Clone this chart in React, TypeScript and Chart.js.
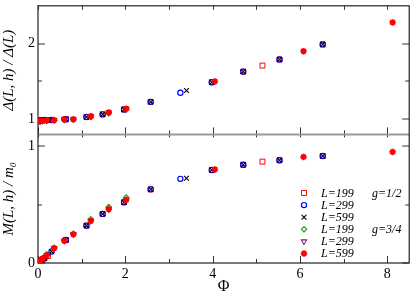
import React, { useEffect, useRef } from 'react';
import { Chart, registerables } from 'chart.js';
import { drawPoint } from 'chart.js/helpers';

Chart.register(...registerables);

// Tick values
const xTickValues = [0, 2, 4, 6, 8];
const topTickValues = [1, 2];
const bottomTickValues = [0, 1];

// g = 1/2, L = 199
const phiA199 = [0.02, 0.06, 0.12, 0.23, 0.64, 1.11, 1.48, 1.97, 2.58, 3.98, 4.70, 5.14, 5.53, 6.52];
const gapA199 = [0.985, 0.985, 0.985, 0.99, 1.0, 1.03, 1.065, 1.13, 1.23, 1.49, 1.63, 1.71, 1.79, 1.99];
const magA199 = [0.005, 0.015, 0.035, 0.06, 0.197, 0.32, 0.42, 0.52, 0.63, 0.795, 0.84, 0.867, 0.879, 0.915];
// g = 1/2, L = 299
const phiA299 = [0.03, 0.08, 0.15, 0.31, 0.64, 1.11, 1.48, 1.97, 2.58, 3.26, 3.98, 4.70, 5.53, 6.52];
const gapA299 = [0.985, 0.985, 0.99, 0.99, 1.0, 1.03, 1.065, 1.13, 1.23, 1.35, 1.49, 1.63, 1.79, 1.99];
const magA299 = [0.008, 0.02, 0.04, 0.098, 0.197, 0.32, 0.42, 0.52, 0.63, 0.72, 0.795, 0.84, 0.879, 0.915];
// g = 1/2, L = 599
const phiA599 = [0.03, 0.08, 0.15, 0.31, 0.64, 1.11, 1.48, 1.97, 2.58, 3.40, 3.98, 4.70, 5.53, 6.52];
const gapA599 = [0.985, 0.985, 0.99, 0.99, 1.0, 1.03, 1.065, 1.13, 1.23, 1.38, 1.49, 1.63, 1.79, 1.99];
const magA599 = [0.008, 0.02, 0.04, 0.098, 0.197, 0.32, 0.42, 0.52, 0.63, 0.725, 0.795, 0.84, 0.879, 0.915];
// g = 3/4, L = 199
const phiB199 = [0.01, 0.05, 0.1, 0.2, 0.37, 0.6, 0.81, 1.21, 1.62, 2.02];
const gapB199 = [0.97, 0.97, 0.975, 0.98, 0.985, 0.99, 0.995, 1.03, 1.08, 1.13];
const magB199 = [0.0, 0.02, 0.04, 0.075, 0.13, 0.195, 0.25, 0.375, 0.48, 0.56];
// g = 3/4, L = 299
const phiB299 = [0.01, 0.05, 0.1, 0.2, 0.37, 0.6, 0.81, 1.21, 1.62, 2.02];
const gapB299 = [0.975, 0.975, 0.98, 0.985, 0.99, 1.0, 1.0, 1.04, 1.09, 1.14];
const magB299 = [0.0, 0.015, 0.035, 0.065, 0.127, 0.19, 0.245, 0.36, 0.46, 0.54];
// g = 3/4, L = 599
const phiB599 = [0.01, 0.05, 0.1, 0.2, 0.37, 0.6, 0.81, 1.21, 1.62, 2.02, 4.05, 6.08, 8.12];
const gapB599 = [0.975, 0.975, 0.98, 0.985, 0.99, 1.0, 1.0, 1.04, 1.09, 1.14, 1.5, 1.90, 2.28];
const magB599 = [0.0, 0.015, 0.035, 0.065, 0.127, 0.19, 0.245, 0.36, 0.46, 0.54, 0.80, 0.907, 0.95];

const seriesLabels = ['L=199', 'L=299', 'L=599', 'L=199', 'L=299', 'L=599'];
const groupLabels = ['g=1/2', '', '', 'g=3/4', '', ''];

const SERIF = "'Liberation Serif', 'DejaVu Serif', serif";

type Style = { color: string; pointStyle: any; radius: number; rotation: number; width: number };
const styles: Style[] = [
  { color: '#ff0000', pointStyle: 'rect', radius: 3.5, rotation: 0, width: 1 },
  { color: '#0000ff', pointStyle: 'circle', radius: 2.6, rotation: 0, width: 1.2 },
  { color: '#000000', pointStyle: 'crossRot', radius: 3.4, rotation: 0, width: 1.1 },
  { color: '#1aa01a', pointStyle: 'rectRot', radius: 2.6, rotation: 0, width: 1.2 },
  { color: '#7f1f7f', pointStyle: 'triangle', radius: 3, rotation: 180, width: 1.1 },
  { color: '#ff0000', pointStyle: 'star', radius: 3.2, rotation: 0, width: 1.8 },
];

const seriesData = [
  [phiA199, gapA199, magA199],
  [phiA299, gapA299, magA299],
  [phiA599, gapA599, magA599],
  [phiB199, gapB199, magB199],
  [phiB299, gapB299, magB299],
  [phiB599, gapB599, magB599],
];

const drawOrder = [5, 4, 3, 6, 2, 1];

const noPad = (s: any) => {
  s.paddingTop = 0;
  s.paddingBottom = 0;
  s.paddingLeft = 0;
  s.paddingRight = 0;
};

const framePlugin = {
  id: 'frame',
  beforeDatasetsDraw(chart: any) {
    const ctx = chart.ctx;
    const ca = chart.chartArea;
    const x = chart.scales.x;
    const yT = chart.scales.yTop;
    const yB = chart.scales.yBot;
    const mid = yT.bottom;
    ctx.save();
    ctx.strokeStyle = '#333';
    ctx.lineWidth = 1;
    for (let v = 0; v <= 8; v++) {
      const px = Math.round(x.getPixelForValue(v)) + 0.5;
      const major = v % 2 === 0;
      const L = major ? 7 : 4;
      ctx.beginPath();
      ctx.moveTo(px, ca.top); ctx.lineTo(px, ca.top + 4);
      ctx.moveTo(px, mid); ctx.lineTo(px, mid - L);
      ctx.moveTo(px, mid); ctx.lineTo(px, mid + 3);
      ctx.moveTo(px, ca.bottom); ctx.lineTo(px, ca.bottom - L);
      ctx.stroke();
    }
    ctx.strokeStyle = '#999';
    ctx.lineWidth = 2;
    const yTicks = (scale: any, vals: number[], minors: number[]) => {
      ctx.beginPath();
      for (const v of vals) {
        const py = Math.round(scale.getPixelForValue(v));
        ctx.moveTo(ca.left, py); ctx.lineTo(ca.left + 7, py);
        ctx.moveTo(ca.right, py); ctx.lineTo(ca.right - 7, py);
      }
      for (const v of minors) {
        const py = Math.round(scale.getPixelForValue(v));
        ctx.moveTo(ca.left, py); ctx.lineTo(ca.left + 4, py);
        ctx.moveTo(ca.right, py); ctx.lineTo(ca.right - 4, py);
      }
      ctx.stroke();
    };
    yTicks(yT, topTickValues, [1.5]);
    yTicks(yB, bottomTickValues, [0.5]);
    ctx.strokeStyle = '#999';
    ctx.lineWidth = 2;
    ctx.beginPath();
    ctx.moveTo(ca.left, mid); ctx.lineTo(ca.right, mid);
    ctx.stroke();
    ctx.strokeStyle = '#222';
    ctx.lineWidth = 1.2;
    ctx.strokeRect(ca.left, ca.top, ca.right - ca.left, ca.bottom - ca.top);
    ctx.restore();
  },
  afterDraw(chart: any) {
    const ctx = chart.ctx;
    ctx.save();
    const mx = 304;
    const tx = 321;
    const gx = 372;
    const y0 = 193;
    const dy = 12.1;
    ctx.font = `italic 12px ${SERIF}`;
    ctx.textBaseline = 'middle';
    for (let i = 0; i < 6; i++) {
      const s = styles[i];
      const py = y0 + i * dy;
      ctx.strokeStyle = s.color;
      ctx.fillStyle = 'rgba(0,0,0,0)';
      ctx.lineWidth = s.width;
      drawPoint(ctx, { pointStyle: s.pointStyle, radius: s.radius, rotation: s.rotation, borderWidth: s.width }, mx, py);
      ctx.fillStyle = '#000';
      ctx.fillText(seriesLabels[i], tx, py + 0.5);
      if (groupLabels[i]) ctx.fillText(groupLabels[i], gx, py + 0.5);
    }
    ctx.restore();
  },
};

export default function App() {
  const ref = useRef<HTMLCanvasElement | null>(null);
  useEffect(() => {
    document.body.style.margin = '0';
    const datasets: any[] = [];
    seriesData.forEach(([phi, gap, mag], i) => {
      const s = styles[i];
      const common = {
        label: seriesLabels[i],
        showLine: false,
        pointStyle: s.pointStyle,
        pointRadius: s.radius,
        pointRotation: s.rotation,
        pointBorderWidth: s.width,
        borderColor: s.color,
        backgroundColor: 'rgba(0,0,0,0)',
        pointBackgroundColor: 'rgba(0,0,0,0)',
        order: drawOrder[i],
      };
      datasets.push({ ...common, yAxisID: 'yTop', data: phi.map((p, k) => ({ x: p, y: gap[k] })) });
      datasets.push({ ...common, yAxisID: 'yBot', data: phi.map((p, k) => ({ x: p, y: mag[k] })) });
    });
    const chart = new Chart(ref.current as HTMLCanvasElement, {
      type: 'scatter',
      data: { datasets },
      options: {
        animation: false,
        responsive: false,
        layout: { padding: { top: 3, right: 3, left: 0, bottom: 0 } },
        plugins: { legend: { display: false }, tooltip: { enabled: false } },
        scales: {
          x: {
            type: 'linear',
            min: 0,
            max: 8.5,
            grid: { display: false, drawTicks: false },
            border: { display: false },
            afterBuildTicks: (s: any) => { s.ticks = xTickValues.map((v) => ({ value: v })); },
            afterFit: (s: any) => { s.height = 33; noPad(s); },
            ticks: { color: '#000', font: { family: SERIF, size: 14 }, padding: 3, maxRotation: 0, autoSkip: false },
            title: { display: true, text: 'Φ', color: '#000', font: { family: SERIF, size: 16 }, padding: { top: 0, bottom: 0 } },
          },
          yBot: {
            type: 'linear',
            position: 'left',
            stack: 'panels',
            stackWeight: 1,
            min: 0,
            max: 1.1,
            grid: { display: false, drawTicks: false },
            border: { display: false },
            afterBuildTicks: (s: any) => { s.ticks = bottomTickValues.map((v) => ({ value: v })); },
            afterFit: (s: any) => { s.width = 38; noPad(s); },
            ticks: { color: '#000', font: { family: SERIF, size: 14 }, padding: 3 },
            title: { display: true, text: 'M(L, h) / m₀', color: '#000', font: { family: SERIF, size: 15, style: 'italic' }, padding: { top: 0, bottom: 0 } },
          },
          yTop: {
            type: 'linear',
            position: 'left',
            stack: 'panels',
            stackWeight: 1,
            min: 0.8,
            max: 2.5,
            grid: { display: false, drawTicks: false },
            border: { display: false },
            afterBuildTicks: (s: any) => { s.ticks = topTickValues.map((v) => ({ value: v })); },
            afterFit: (s: any) => { s.width = 38; noPad(s); },
            ticks: { color: '#000', font: { family: SERIF, size: 14 }, padding: 3 },
            title: { display: true, text: 'Δ(L, h) / Δ(L)', color: '#000', font: { family: SERIF, size: 15, style: 'italic' }, padding: { top: 0, bottom: 0 } },
          },
        },
      } as any,
      plugins: [framePlugin],
    });
    return () => chart.destroy();
  }, []);
  return (
    <div style={{ position: 'absolute', left: 0, top: 0, width: 415, height: 296 }}>
      <canvas ref={ref} width={415} height={296} style={{ width: 415, height: 296 }} />
    </div>
  );
}
